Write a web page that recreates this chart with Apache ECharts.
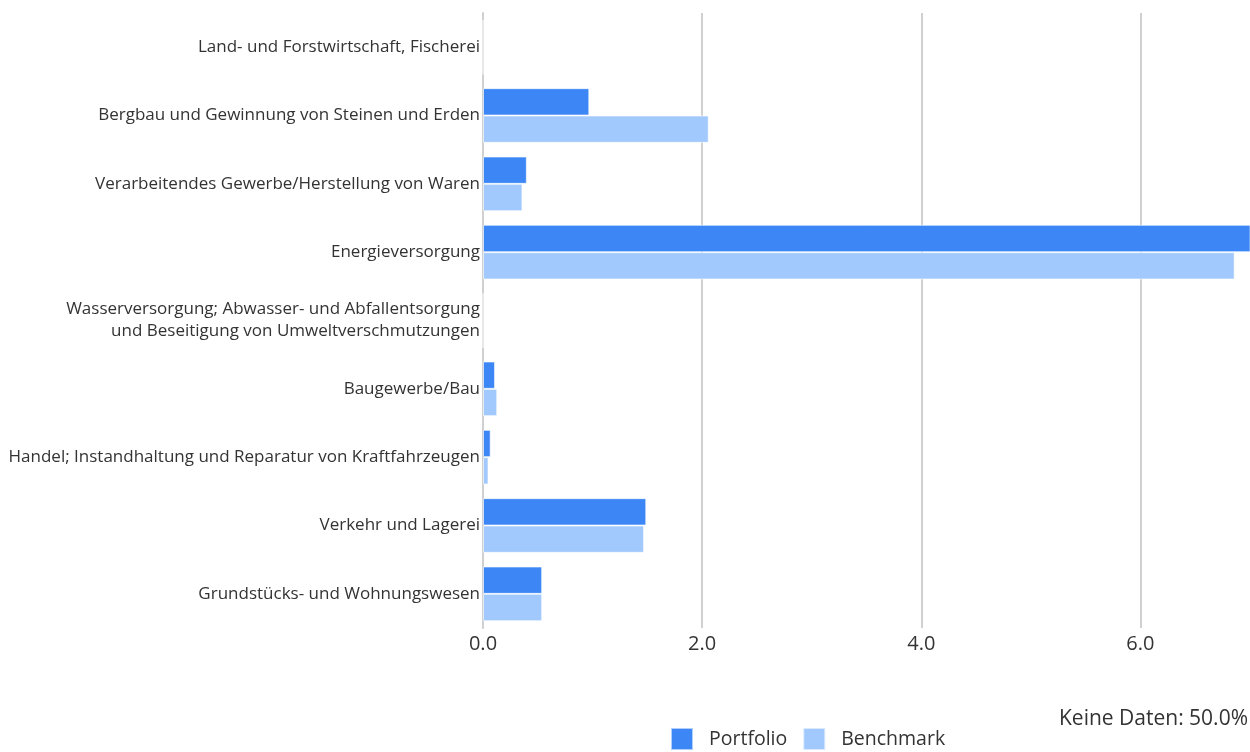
<!DOCTYPE html>
<html>
<head>
<meta charset="utf-8">
<script src="https://cdn.jsdelivr.net/npm/echarts@6/dist/echarts.min.js"></script>
<style>html,body{margin:0;padding:0;background:#fff}#c{width:1250px;height:752px}</style>
</head>
<body>
<div id="c"></div>
<script>
const categories = [
  "Land- und Forstwirtschaft, Fischerei",
  "Bergbau und Gewinnung von Steinen und Erden",
  "Verarbeitendes Gewerbe/Herstellung von Waren",
  "Energieversorgung",
  "Wasserversorgung; Abwasser- und Abfallentsorgung\nund Beseitigung von Umweltverschmutzungen",
  "Baugewerbe/Bau",
  "Handel; Instandhaltung und Reparatur von Kraftfahrzeugen",
  "Verkehr und Lagerei",
  "Grundstücks- und Wohnungswesen"
];
const portfolio = [0, 0.97, 0.40, 7.2, 0, 0.11, 0.07, 1.49, 0.54];
const benchmark = [0, 2.06, 0.36, 6.86, 0, 0.13, 0.05, 1.47, 0.54];
const xTicks = [0, 2, 4, 6];
const noDataText = "Keine Daten: 50.0%";

const FONT = "'Open Sans', 'Noto Sans', sans-serif";
const chart = echarts.init(document.getElementById('c'));
chart.setOption({
  animation: false,
  textStyle: { fontFamily: FONT },
  grid: { left: 483, right: 0, top: 13, bottom: 124, containLabel: false },
  xAxis: {
    type: 'value', min: 0, max: 7, interval: 2,
    axisLine: { show: false }, axisTick: { show: false },
    splitLine: { showMaxLine: false, lineStyle: { color: '#d0d0d0', width: 2 } },
    axisLabel: {
      fontSize: 20, color: '#333', margin: 6, fontFamily: FONT, showMaxLabel: false,
      formatter: v => xTicks.includes(v) ? v.toFixed(1) : ''
    }
  },
  yAxis: {
    type: 'category', data: categories, inverse: true,
    axisLine: { show: true, lineStyle: { color: '#d0d0d0', width: 2 } },
    axisTick: { show: false },
    axisLabel: { fontSize: 17, color: '#333', margin: 3, lineHeight: 22, fontFamily: FONT }
  },
  legend: {
    left: 670, top: 727, itemWidth: 22, itemHeight: 22, itemGap: 15,
    icon: 'rect', padding: 0,
    textStyle: { fontSize: 19.5, color: '#333', fontFamily: FONT, padding: [18, 0, 0, 11] },
    data: ['Portfolio', 'Benchmark']
  },
  graphic: [{
    type: 'text', right: 2, top: 709,
    style: { text: noDataText, fontSize: 21, fill: '#333', fontFamily: FONT }
  }],
  series: [
    { name: 'Portfolio', type: 'bar', data: portfolio, barGap: '0%', barCategoryGap: '20%',
      itemStyle: { color: '#3c87f5', borderColor: 'rgba(255,255,255,0.6)', borderWidth: 1 } },
    { name: 'Benchmark', type: 'bar', data: benchmark,
      itemStyle: { color: '#a2c9fd', borderColor: 'rgba(255,255,255,0.6)', borderWidth: 1 } }
  ]
});
</script>
</body>
</html>
